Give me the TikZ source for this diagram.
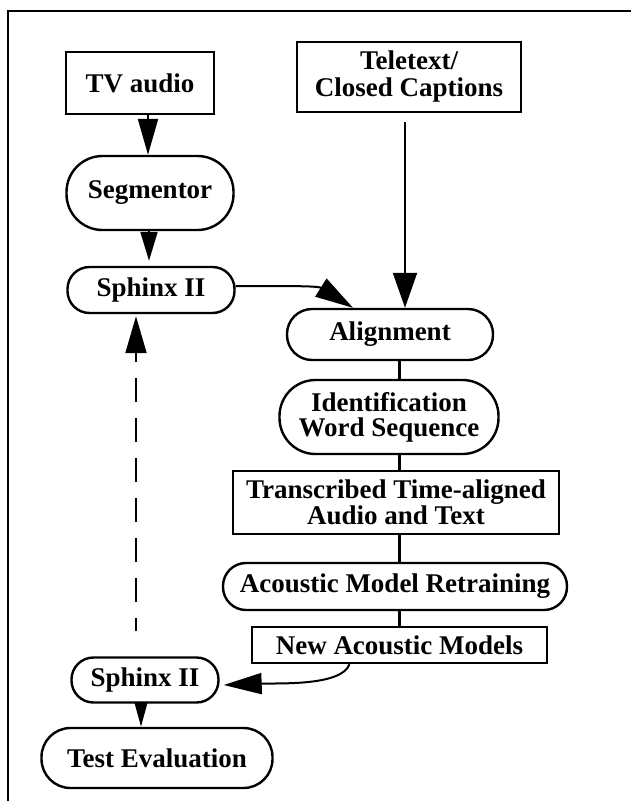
\documentclass[tikz,border=0pt]{standalone}
\usepackage{fontspec}
\setmainfont{Liberation Serif}
\usetikzlibrary{arrows.meta}
\tikzstyle{frame}=[line width=2.4pt]
\tikzstyle{datum}=[rectangle,draw,line width=2.4pt,inner sep=0pt,align=center]
\tikzstyle{process}=[rectangle,draw,line width=2.4pt,inner sep=0pt,align=center]
\tikzstyle{link}=[line width=2.2pt]
\tikzset{flow/.style 2 args={line width=2pt,-{Triangle[length=#1,width=#2]}}}

\begin{document}
\begin{tikzpicture}[x=1pt,y=-1pt,font=\fontsize{27}{23}\selectfont\bfseries]
  \useasboundingbox (0,0) rectangle (631,801);
  \draw[frame] (8,801) -- (8,11) -- (631,11);

  % inputs
  \node[datum,minimum width=148pt,minimum height=62pt] (tv audio) at (140,83) {TV audio};
  \node[datum,minimum width=224pt,minimum height=70pt] (teletext) at (409,77)
    {Teletext/\\[4pt]Closed Captions};

  % left column
  \node[process,rounded corners=36pt,minimum width=167pt,minimum height=74pt]
    (segmentor) at (150,193) {Segmentor};
  \node[process,rounded corners=22pt,minimum width=167pt,minimum height=46pt]
    (sphinx train) at (151,290) {Sphinx II};
  \node[process,rounded corners=22pt,minimum width=147pt,minimum height=45pt]
    (sphinx test) at (145,680) {Sphinx II};
  \node[process,rounded corners=29pt,minimum width=231pt,minimum height=60pt]
    (test evaluation) at (157,758) {Test Evaluation};

  % right column
  \node[process,rounded corners=25pt,minimum width=206pt,minimum height=51pt]
    (alignment) at (390,334.5) {Alignment};
  \node[process,rounded corners=36pt,minimum width=219pt,minimum height=74pt]
    (identification) at (389,417) {Identification\\[2pt]Word Sequence};
  \node[datum,minimum width=326pt,minimum height=63pt] (transcribed) at (396,502.5)
    {Transcribed Time-aligned\\Audio and Text};
  \node[process,rounded corners=23pt,minimum width=344pt,minimum height=47pt]
    (retraining) at (395,586.5) {Acoustic Model Retraining};
  \node[datum,minimum width=295pt,minimum height=36pt] (new models) at (399.5,645)
    {New Acoustic Models};

  \draw[flow={36pt}{20pt}] ([xshift=8pt]tv audio.south) -- ([xshift=-2pt]segmentor.north);
  \draw[flow={29pt}{17pt}] ([xshift=-1pt]segmentor.south) -- ([xshift=-2pt,yshift=5pt]sphinx train.north);
  \draw[flow={35pt}{24pt}] ([xshift=-4pt,yshift=-9pt]teletext.south) -- ([xshift=15pt]alignment.north);
  \draw[flow={38pt}{21pt}] ([yshift=4pt]sphinx train.east)
    .. controls +(50,0) and +(-35,-22) .. ([xshift=-37pt]alignment.north);

  \foreach \upper/\lower in {alignment/identification, identification/transcribed,
      transcribed/retraining, retraining/new models}
    \draw[link] (\upper.south -| new models) -- (\lower.north -| new models);

  \draw[flow={38pt}{21pt}] ([xshift=-50pt]new models.south)
    .. controls +(-8,22) and +(55,-2) .. ([xshift=4pt,yshift=-5pt]sphinx test.east);
  \draw[flow={37pt}{21pt},dash pattern=on 24pt off 16pt,dash phase=11pt]
    ([xshift=-9pt,yshift=25pt]sphinx test.north) -- ([xshift=-15pt,yshift=-2pt]sphinx train.south);
  \draw[flow={25pt}{13pt}] ([xshift=-4pt]sphinx test.south) -- ([xshift=-16pt]test evaluation.north);
\end{tikzpicture}
\end{document}
